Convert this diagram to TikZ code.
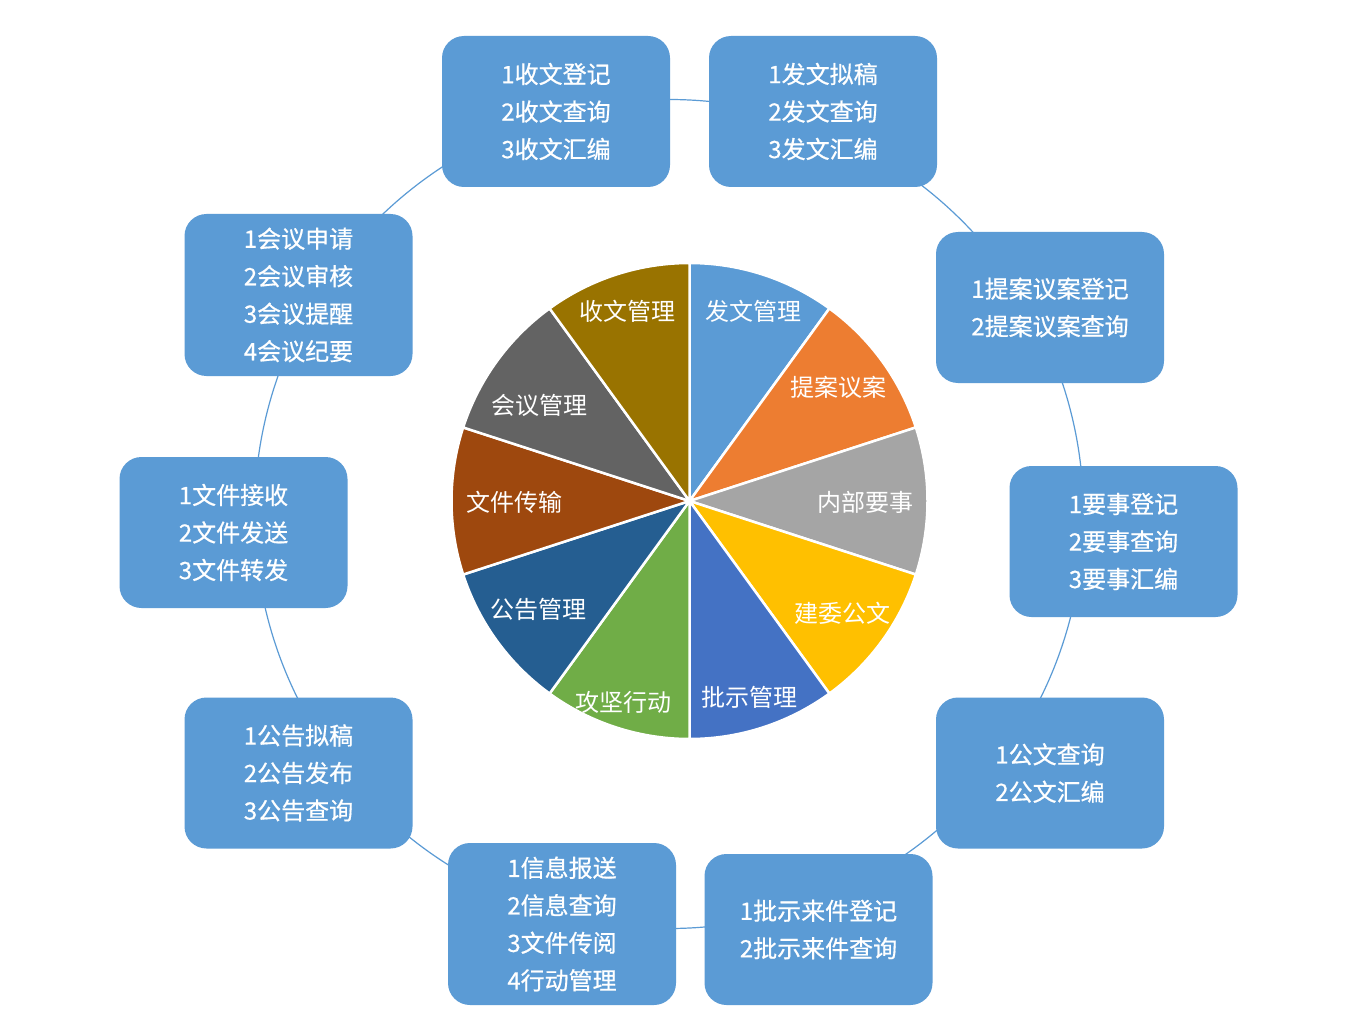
\documentclass[tikz,border=0pt]{standalone}
\usepackage{fontspec}
\setmainfont{Noto Sans CJK SC}
\newfontfamily\boxfont[FakeBold=0.6]{Noto Sans CJK SC}
\definecolor{boxblue}{HTML}{5B9BD5}
\definecolor{pA}{HTML}{5B9BD5}
\definecolor{pB}{HTML}{ED7D31}
\definecolor{pC}{HTML}{A5A5A5}
\definecolor{pD}{HTML}{FFC000}
\definecolor{pE}{HTML}{4472C4}
\definecolor{pF}{HTML}{70AD47}
\definecolor{pG}{HTML}{255E91}
\definecolor{pH}{HTML}{9E480E}
\definecolor{pI}{HTML}{636363}
\definecolor{pJ}{HTML}{997300}
\begin{document}
\begin{tikzpicture}[x=1pt,y=-1pt,
  item/.style={fill=boxblue, rounded corners=22pt, minimum width=228pt, minimum height=151pt,
    text=white, align=center, font=\boxfont\fontsize{24}{37.5}\selectfont, inner sep=0pt},
  tall/.style={minimum height=162pt},
  lbl/.style={text=white, font=\fontsize{24}{28}\selectfont, inner sep=0pt},
  slice/.style={draw=white, line width=2.5pt},
  ringline/.style={draw=boxblue, line width=1.2pt}]
\useasboundingbox (0,0) rectangle (1360,1011);
\fill[white] (0,0) rectangle (1360,1011);
% ring behind boxes
\coordinate (ring) at (669,514);
\draw[ringline] (ring) circle (414.5);
% pie
\coordinate (pc) at (689.5,501);
\foreach \c [count=\i from 0] in {pA,pB,pC,pD,pE,pF,pG,pH,pI,pJ} {
  \filldraw[slice, fill=\c] (pc) -- ++({-90+36*\i}:238)
    arc[start angle={-90+36*\i}, end angle={-54+36*\i}, radius=238] -- cycle;
}
\node[lbl] (l1) at (753,311) {发文管理};
\node[lbl] (l2) at (838,387) {提案议案};
\node[lbl] (l3) at (865,502) {内部要事};
\node[lbl] (l4) at (842,613) {建委公文};
\node[lbl] (l5) at (749,697) {批示管理};
\node[lbl] (l6) at (623,702) {攻坚行动};
\node[lbl] (l7) at (538,609) {公告管理};
\node[lbl] (l8) at (514,502) {文件传输};
\node[lbl] (l9) at (539,405) {会议管理};
\node[lbl] (l10) at (627,311) {收文管理};
% boxes
\node[item] (b1) at (556,111.5) {1收文登记\\2收文查询\\3收文汇编};
\node[item] (b2) at (823,111.5) {1发文拟稿\\2发文查询\\3发文汇编};
\node[item] (b3) at (1050,307.5) {1提案议案登记\\2提案议案查询};
\node[item] (b4) at (1123.5,541.5) {1要事登记\\2要事查询\\3要事汇编};
\node[item] (b5) at (1050,773) {1公文查询\\2公文汇编};
\node[item] (b6) at (818.5,929.5) {1批示来件登记\\2批示来件查询};
\node[item, tall] (b7) at (562,924) {1信息报送\\2信息查询\\3文件传阅\\4行动管理};
\node[item] (b8) at (298.5,773) {1公告拟稿\\2公告发布\\3公告查询};
\node[item] (b9) at (233.5,532.5) {1文件接收\\2文件发送\\3文件转发};
\node[item, tall] (b10) at (298.5,295) {1会议申请\\2会议审核\\3会议提醒\\4会议纪要};
\end{tikzpicture}
\end{document}
